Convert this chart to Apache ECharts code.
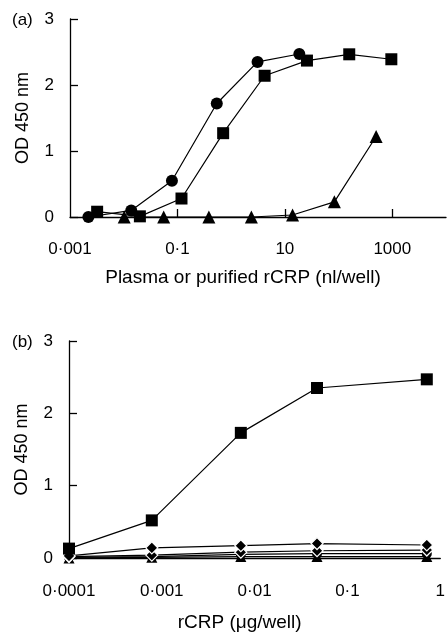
<!DOCTYPE html>
<html>
<head>
<meta charset="utf-8">
<script src="https://cdn.jsdelivr.net/npm/echarts@6/dist/echarts.min.js"></script>
<style>html,body{margin:0;padding:0;background:#fff}#c{width:448px;height:633px}</style>
</head>
<body>
<div id="c"></div>
<script>
// ---- Panel (a) data ----
var aCircleX = [0.0022, 0.0138, 0.079, 0.54, 3.1, 18.6];
var aCircleY = [0.0, 0.1, 0.55, 1.72, 2.35, 2.47];
var aSquareX = [0.0032, 0.020, 0.119, 0.71, 4.2, 25.8, 158, 960];
var aSquareY = [0.08, 0.01, 0.28, 1.27, 2.14, 2.37, 2.465, 2.39];
var aTriX = [0.0102, 0.0555, 0.385, 2.38, 13.9, 83.5, 500];
var aTriY = [0, 0, 0, 0, 0.03, 0.23, 1.22];
var aTickValues = [0.001, 0.1, 10, 1000];
var aTickLabels = ['0·001', '0·1', '10', '1000'];

// ---- Panel (b) data ----
var bX = [0.0001, 0.00078, 0.0071, 0.047, 0.716];
var bSquareY = [0.13, 0.52, 1.73, 2.35, 2.47];
var bDiamond1Y = [0.03, 0.14, 0.17, 0.2, 0.18];
var bDiamond2Y = [0.02, 0.04, 0.08, 0.1, 0.11];
var bCircleY = [0.01, 0.02, 0.05, 0.06, 0.06];
var bTriY = [0.0, 0.01, 0.02, 0.02, 0.02];
var bTickValues = [0.0001, 0.001, 0.01, 0.1, 1];
var bTickLabels = ['0·0001', '0·001', '0·01', '0·1', '1'];

function pairs(xs, ys) { return xs.map(function (x, i) { return [x, ys[i]]; }); }
function lookup(vals, labels) {
  return function (v) {
    for (var i = 0; i < vals.length; i++) {
      if (Math.abs(Math.log10(v) - Math.log10(vals[i])) < 1e-6) return labels[i];
    }
    return '';
  };
}

var FONT = 'Liberation Sans, Arial, Helvetica, sans-serif';
var black = '#000';
var tickTxt = { color: black, fontSize: 17, fontFamily: FONT };
var nameTxt = { color: black, fontSize: 19, fontFamily: FONT };

function yAxis(gi) {
  return {
    gridIndex: gi, type: 'value', min: 0, max: 3, interval: 1,
    name: 'OD 450 nm', nameLocation: 'middle', nameRotate: 90, nameGap: 38,
    nameTextStyle: { color: black, fontSize: 18, fontFamily: FONT },
    axisLine: { show: true, lineStyle: { color: black, width: 1.3 } },
    axisTick: { show: true, inside: true, length: 8, lineStyle: { color: black, width: 1.3 } },
    axisLabel: Object.assign({ margin: 16 }, tickTxt),
    splitLine: { show: false }
  };
}

function line(name, xi, data, symbol, size, extra) {
  var s = {
    name: name, type: 'line', xAxisIndex: xi, yAxisIndex: xi, data: data,
    symbol: symbol, symbolSize: size, clip: false, animation: false,
    lineStyle: { color: black, width: 1.2 },
    itemStyle: { color: black }
  };
  if (extra) Object.assign(s.itemStyle, extra);
  return s;
}

var chart = echarts.init(document.getElementById('c'), null, { renderer: 'canvas' });
chart.setOption({
  backgroundColor: '#fff',
  animation: false,
  grid: [
    { left: 70, top: 19, width: 376, height: 198 },
    { left: 69, top: 341, width: 377, height: 224 }
  ],
  xAxis: [
    {
      gridIndex: 0, type: 'log', logBase: 10, min: 0.001, max: 10000,
      name: 'Plasma or purified rCRP (nl/well)', nameLocation: 'middle', nameGap: 51,
      nameTextStyle: Object.assign({ padding: [0, 30, 0, 0] }, nameTxt),
      axisLine: { show: true, lineStyle: { color: black, width: 1.3 } },
      axisTick: { show: true, inside: true, length: 8, customValues: [0.1, 10, 1000], lineStyle: { color: black, width: 1.3 } },
      axisLabel: Object.assign({ margin: 24, customValues: aTickValues, formatter: lookup(aTickValues, aTickLabels) }, tickTxt),
      splitLine: { show: false }, minorTick: { show: false }
    },
    {
      gridIndex: 1, type: 'log', logBase: 10, min: 0.0001, max: 1,
      name: 'rCRP (μg/well)', nameLocation: 'middle', nameGap: 55,
      nameTextStyle: Object.assign({ padding: [0, 30, 0, 0] }, nameTxt),
      axisLine: { show: true, lineStyle: { color: black, width: 1.3 } },
      axisTick: { show: false },
      axisLabel: Object.assign({ margin: 25, customValues: bTickValues, formatter: lookup(bTickValues, bTickLabels) }, tickTxt),
      splitLine: { show: false }, minorTick: { show: false }
    }
  ],
  yAxis: [yAxis(0), yAxis(1)],
  graphic: [
    { type: 'text', left: 12, top: 12, style: { text: '(a)', fill: black, font: '17px ' + FONT } },
    { type: 'text', left: 12, top: 334, style: { text: '(b)', fill: black, font: '17px ' + FONT } }
  ],
  series: [
    line('a-circle', 0, pairs(aCircleX, aCircleY), 'circle', 12),
    line('a-square', 0, pairs(aSquareX, aSquareY), 'rect', 12),
    line('a-triangle', 0, pairs(aTriX, aTriY), 'triangle', 13),
    line('b-triangle', 1, pairs(bX, bTriY), 'triangle', 11),
    line('b-circle', 1, pairs(bX, bCircleY), 'circle', 10),
    line('b-diamond2', 1, pairs(bX, bDiamond2Y), 'diamond', 12, { borderColor: '#fff', borderWidth: 1.2 }),
    line('b-diamond1', 1, pairs(bX, bDiamond1Y), 'diamond', 12, { borderColor: '#fff', borderWidth: 1.2 }),
    line('b-square', 1, pairs(bX, bSquareY), 'rect', 12)
  ]
});
</script>
</body>
</html>
